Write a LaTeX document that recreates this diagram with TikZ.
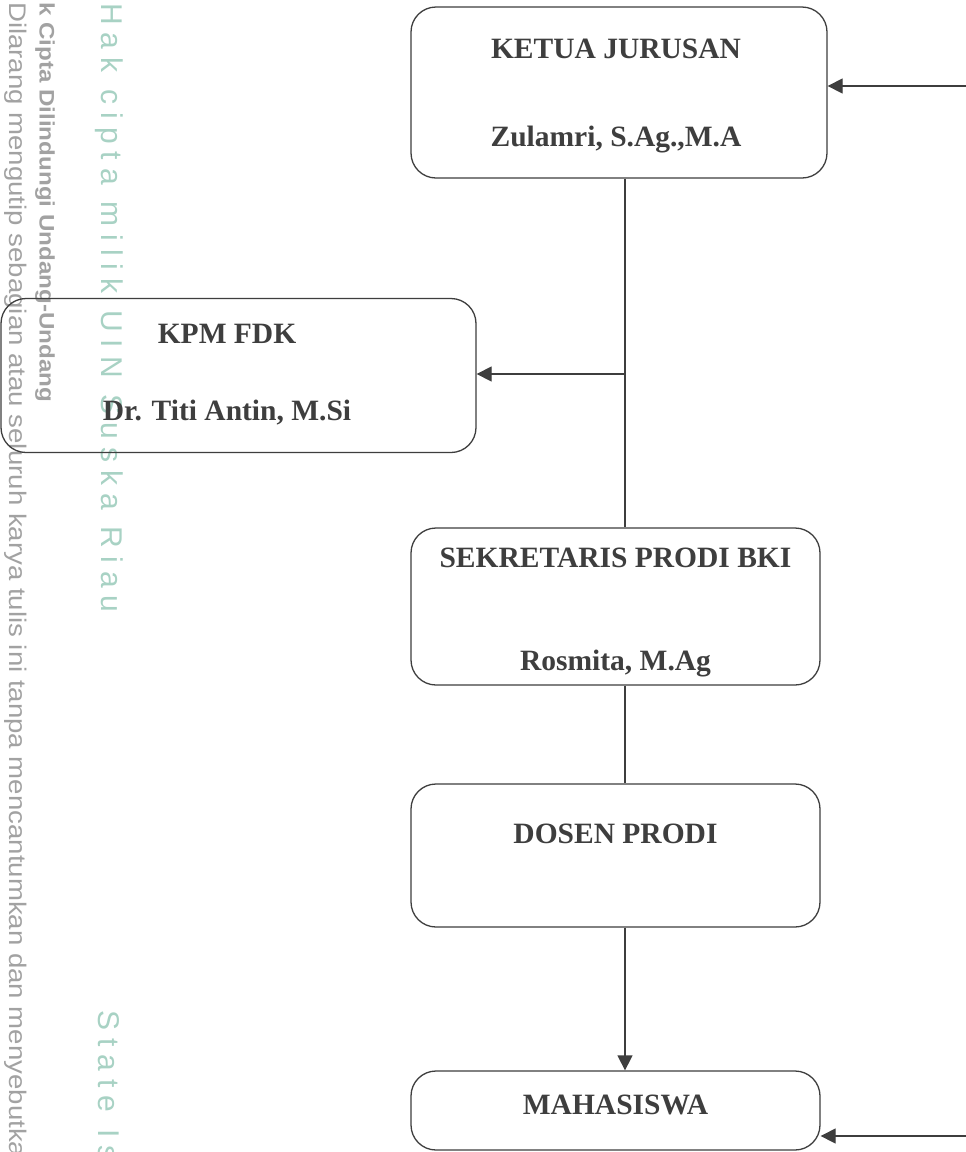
\documentclass[tikz,border=0pt]{standalone}
\usepackage{fontspec}
\setmainfont{Liberation Serif}
\setsansfont{Liberation Sans}
\usetikzlibrary{arrows.meta}
\definecolor{ink}{HTML}{3E3E3E}
\definecolor{wmgrey}{HTML}{A2A2A2}
\definecolor{wmteal}{HTML}{A8D2C4}
\tikzset{
  orgbox/.style={draw=ink, line width=1.3pt, rounded corners=25pt, rectangle, inner sep=0pt},
  boxtext/.style={text=ink, font=\fontsize{29.5}{34}\selectfont\bfseries, inner sep=0pt},
  link/.style={draw=ink, line width=1.3pt},
  arr/.style={link, -{Triangle[length=15pt,width=15pt]}},
  wmsmall/.style={text=wmgrey, font=\sffamily\fontsize{24}{28}\selectfont\addfontfeature{FakeStretch=1.15}, rotate=-90, anchor=west, inner sep=0pt},
  wmbold/.style={text=wmgrey, font=\sffamily\bfseries\fontsize{21}{24}\selectfont\addfontfeature{FakeStretch=1.15}, rotate=-90, anchor=west, inner sep=0pt},
  wmbig/.style={text=wmteal, font=\sffamily\fontsize{30}{34}\selectfont\addfontfeature{LetterSpace=27}, rotate=-90, anchor=west, inner sep=0pt}
}
\begin{document}
\begin{tikzpicture}[x=1pt,y=-1pt]
\useasboundingbox (0,0) rectangle (966,1152);
\fill[white] (0,0) rectangle (966,1152);

% watermark texts
\node[wmsmall] (wdil) at (16,2) {Dilarang mengutip sebagian atau seluruh karya tulis ini tanpa mencantumkan dan menyebutka};
\node[wmbold] (wcip) at (45,2) {k Cipta Dilindungi Undang-Undang};
\node[wmbig] (whak) at (109,3) {Hak cipta milik UIN Suska Riau};
\node[wmbig] (wsta) at (109,1010) {State Is};

% boxes
\node[orgbox, minimum width=416pt, minimum height=171pt] (ketua) at (619,92.5) {};
\node[orgbox, minimum width=475pt, minimum height=154pt] (kpm) at (238.5,375.5) {};
\node[orgbox, minimum width=409pt, minimum height=157pt] (sek) at (615.5,606.5) {};
\node[orgbox, minimum width=409pt, minimum height=143pt] (dosen) at (615.5,855.5) {};
\node[orgbox, minimum width=409pt, minimum height=79pt] (maha) at (615.5,1110.5) {};

% texts
\node[boxtext] (t1) at (616,49) {KETUA JURUSAN};
\node[boxtext] (t2) at (616,140) {Zulamri, S.Ag.,M.A};
\node[boxtext] (t3) at (227,334) {KPM FDK};
\node[boxtext] (t4) at (227,413) {Dr. Titi Antin, M.Si};
\node[boxtext] (t5) at (615.5,558) {SEKRETARIS PRODI BKI};
\node[boxtext] (t6) at (615.5,664) {Rosmita, M.Ag};
\node[boxtext] (t7) at (615.5,834) {DOSEN PRODI};
\node[boxtext] (t8) at (615.5,1105) {MAHASISWA};

% connectors
\coordinate (spine) at (625,0);
\coordinate (kin) at (966,86);
\coordinate (kj) at (625,374);
\coordinate (min) at (966,1136);
\draw[arr] (kin) -- (kin -| ketua.east);
\draw[link] (spine |- ketua.south) -- (spine |- sek.north);
\draw[arr] (kj) -- (kj -| kpm.east);
\draw[link] (spine |- sek.south) -- (spine |- dosen.north);
\draw[arr] (spine |- dosen.south) -- (spine |- maha.north);
\draw[arr] (min) -- (min -| maha.east);
\end{tikzpicture}
\end{document}
